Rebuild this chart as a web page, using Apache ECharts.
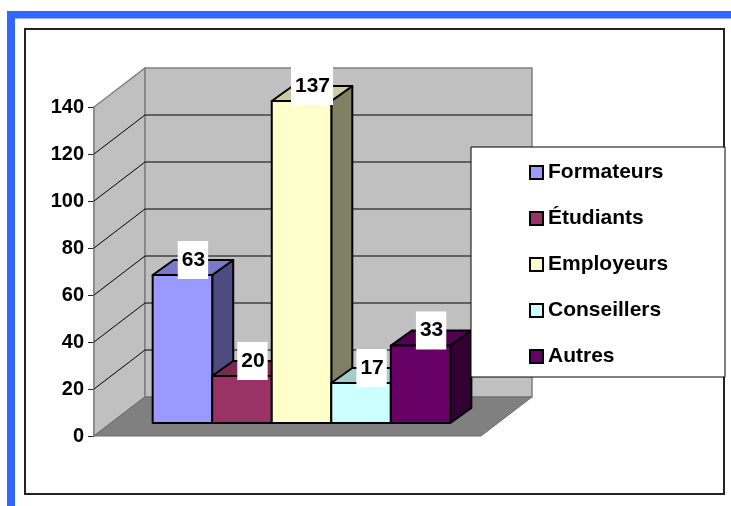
<!DOCTYPE html>
<html>
<head>
<meta charset="utf-8">
<script src="https://cdn.jsdelivr.net/npm/echarts@6/dist/echarts.min.js"></script>
<style>
html,body{margin:0;padding:0;background:#fff;}
#chart{width:731px;height:506px;}
</style>
</head>
<body>
<div id="chart"></div>
<script>
// ---- data ----
var seriesNames = ['Formateurs', 'Étudiants', 'Employeurs', 'Conseillers', 'Autres'];
var seriesValues = [63, 20, 137, 17, 33];
var yTicks = [0, 20, 40, 60, 80, 100, 120, 140];
var frontColors = ['#9999FF', '#993366', '#FFFFCC', '#CCFFFF', '#660066'];
var topColors   = ['#7A7ACC', '#7A2952', '#CCCCA3', '#A3CCCC', '#520052'];
var sideColors  = ['#4C4C80', '#4C1933', '#808066', '#668080', '#330033'];

var FONT = "'Liberation Sans', Arial, Helvetica, sans-serif";
var X_MIN = -1.2, X_MAX = 5.3;
var D = [51, -39];      // full depth of the 3D box
var F = [17, -13];      // bar front plane offset
var B = [38, -28];      // bar back plane offset

var chart = echarts.init(document.getElementById('chart'), null, {renderer: 'canvas'});

function wallsRender(params, api) {
  var a = api.coord([X_MIN, yTicks[0]]);
  var b = api.coord([X_MAX, yTicks[yTicks.length - 1]]);
  var children = [];
  var wallStyle = {fill: '#C0C0C0', stroke: '#808080', lineWidth: 1.5};
  children.push({type: 'polygon', shape: {points: [[a[0], a[1]], [a[0], b[1]], [a[0] + D[0], b[1] + D[1]], [a[0] + D[0], a[1] + D[1]]]}, style: wallStyle});
  children.push({type: 'polygon', shape: {points: [[a[0] + D[0], b[1] + D[1]], [b[0] + D[0], b[1] + D[1]], [b[0] + D[0], a[1] + D[1]], [a[0] + D[0], a[1] + D[1]]]}, style: wallStyle});
  children.push({type: 'polygon', shape: {points: [[a[0], a[1]], [b[0], a[1]], [b[0] + D[0], a[1] + D[1]], [a[0] + D[0], a[1] + D[1]]]}, style: {fill: '#808080', stroke: '#6e6e6e', lineWidth: 1}});
  for (var i = 1; i < yTicks.length - 1; i++) {
    var y = api.coord([X_MIN, yTicks[i]])[1];
    children.push({type: 'polyline', shape: {points: [[a[0], y], [a[0] + D[0], y + D[1]], [b[0] + D[0], y + D[1]]]}, style: {stroke: '#000', lineWidth: 1, fill: null}});
  }
  return {type: 'group', children: children};
}

function makeBarRender(idx) {
  return function (params, api) {
    var x = api.value(0), v = api.value(1);
    var p0 = api.coord([x - 0.5, 0]);
    var p1 = api.coord([x + 0.5, v]);
    var xl = p0[0] + F[0], xr = p1[0] + F[0];
    var yb = p0[1] + F[1], yt = p1[1] + F[1];
    var dx = B[0] - F[0], dy = B[1] - F[1];
    var base = idx * 3;
    var st = {stroke: '#000', lineWidth: 2, lineJoin: 'round'};
    return {type: 'group', children: [
      {type: 'polygon', z2: base, shape: {points: [[xr, yt], [xr + dx, yt + dy], [xr + dx, yb + dy], [xr, yb]]}, style: Object.assign({fill: sideColors[idx]}, st)},
      {type: 'polygon', z2: base + 1, shape: {points: [[xl, yt], [xr, yt], [xr + dx, yt + dy], [xl + dx, yt + dy]]}, style: Object.assign({fill: topColors[idx]}, st)},
      {type: 'polygon', z2: base + 2, shape: {points: [[xl, yb], [xr, yb], [xr, yt], [xl, yt]]}, style: Object.assign({fill: frontColors[idx]}, st)},
      {type: 'text', z2: 100, style: {
        text: String(v), x: (xl + xr) / 2 + dx / 2, y: yt - 15,
        align: 'center', verticalAlign: 'middle',
        fontFamily: FONT, fontSize: 21, fontWeight: 'bold', fill: '#000',
        backgroundColor: '#fff', padding: [8, 3, 9, 4], lineHeight: 21
      }}
    ]};
  };
}

var series = [{
  type: 'custom', name: '__walls', z: 1, clip: false, silent: true,
  renderItem: wallsRender, data: [[0, 0]]
}];
for (var i = 0; i < seriesNames.length; i++) {
  series.push({
    type: 'custom', name: seriesNames[i], z: 2, clip: false,
    itemStyle: {color: frontColors[i]},
    renderItem: makeBarRender(i),
    data: [[i, seriesValues[i]]]
  });
}

chart.setOption({
  animation: false,
  backgroundColor: '#fff',
  grid: {left: 94, right: 250, top: 107, bottom: 70, containLabel: false},
  xAxis: {type: 'value', min: X_MIN, max: X_MAX, show: false, axisLine: {onZero: false}},
  yAxis: {
    type: 'value', min: 0, max: 140, interval: 20,
    axisLine: {show: true, onZero: false, lineStyle: {color: '#808080', width: 1.5}},
    axisTick: {show: true, length: 6, lineStyle: {color: '#222'}},
    splitLine: {show: false},
    axisLabel: {margin: 10, color: '#000', fontFamily: FONT, fontSize: 20, fontWeight: 'bold'}
  },
  legend: {
    data: seriesNames,
    orient: 'vertical', left: 529, top: 162, padding: 0,
    itemWidth: 13, itemHeight: 13, itemGap: 25, icon: 'rect',
    selectedMode: false,
    itemStyle: {borderColor: '#000', borderWidth: 2},
    textStyle: {color: '#000', fontFamily: FONT, fontSize: 21, fontWeight: 'bold'}
  },
  graphic: [
    {type: 'rect', z: 0, silent: true, shape: {x: 7, y: 11, width: 724, height: 7.5}, style: {fill: '#3366FF'}},
    {type: 'rect', z: 0, silent: true, shape: {x: 7, y: 11, width: 8, height: 495}, style: {fill: '#3366FF'}},
    {type: 'rect', z: 0, silent: true, shape: {x: 25, y: 29, width: 699, height: 465}, style: {fill: null, stroke: '#222', lineWidth: 2}},
    {type: 'rect', z: 3, silent: true, shape: {x: 471, y: 147, width: 254, height: 230}, style: {fill: '#fff', stroke: '#000', lineWidth: 1}}
  ],
  series: series
});
</script>
</body>
</html>
